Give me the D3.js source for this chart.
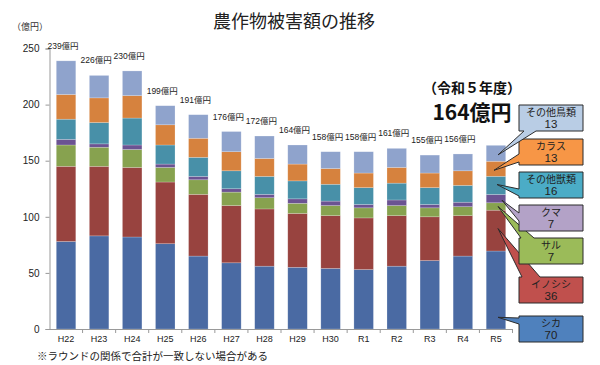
<!DOCTYPE html>
<html><head><meta charset="utf-8">
<script src="https://cdn.jsdelivr.net/npm/d3@7"></script>
<style>
body{margin:0;background:#fff;}
svg{display:block;font-family:"Liberation Sans","Noto Sans CJK JP",sans-serif;}
</style></head>
<body><svg id="c" width="600" height="365"></svg>
<script>
const categories = ["H22","H23","H24","H25","H26","H27","H28","H29","H30","R1","R2","R3","R4","R5"];
const shika     = [78,83,82,76,65,59,56,55,54,53,56,61,65,69.5];
const inoshishi = [67,62,62,55,55,51,51,48,47,46,45,39,36,36.4];
const saru      = [19,17,16,13,13,12,10,9,9,9,9,8,8,6.6];
const kuma      = [5,3,4,3,3,3,3,4,4,3,5,3,4,7.4];
const sonotaJu  = [18,19,24,17,17,16,16,16,15,15,15,15,15,16.2];
const karasu    = [22,22,20,18,17,17,16,15,14,13,14,13,13,13.4];
const sonotaCho = [30,20,22,17,21,18,20,17,15,19,17,16,15,14.2];
const totals    = [239,226,230,199,191,176,172,164,158,158,161,155,156];
const seriesNames = ["シカ","イノシシ","サル","クマ","その他獣類","カラス","その他鳥類"];
const calloutValues = [70,36,7,7,16,13,13];
const yTicks = [0,50,100,150,200,250];

const seriesData = [shika,inoshishi,saru,kuma,sonotaJu,karasu,sonotaCho];
const barColors = ["#4a6aa3","#98433f","#87a24f","#6b5392","#4890a8","#d6823e","#8fa3cc"];
const boxColors = ["#4f81bd","#c0504d","#9bbb59","#b3a2c7","#4bacc6","#f79646","#b9cde5"];

const svg = d3.select("#c");
const x = d3.scaleBand().domain(categories).range([49.5,512.5]).paddingInner(0.41).paddingOuter(0.205);
const y = d3.scaleLinear().domain([0,250]).range([329,48.5]);

const rows = categories.map((c,i)=>{const o={cat:c}; seriesNames.forEach((s,j)=>o[s]=seriesData[j][i]); return o;});
const stack = d3.stack().keys(seriesNames)(rows);

// title
svg.append("text").attr("x",213).attr("y",28).attr("font-size",18).attr("fill","#222")
  .style("font-family","'Noto Sans CJK JP',sans-serif").text("農作物被害額の推移");
svg.append("text").attr("x",12).attr("y",30).attr("font-size",9).attr("fill","#333").text("（億円）");

// bars
stack.forEach((layer,j)=>{
  svg.append("g").selectAll("rect").data(layer).join("rect")
    .attr("x",d=>x(d.data.cat)).attr("width",x.bandwidth())
    .attr("y",d=>y(d[1])).attr("height",d=>y(d[0])-y(d[1]))
    .attr("fill",barColors[j]).attr("stroke","rgba(255,255,255,0.35)").attr("stroke-width",0.6);
});

// axes
const ya = svg.append("g").attr("transform","translate(49.5,0)")
  .call(d3.axisLeft(y).tickValues(yTicks).tickSize(4).tickPadding(6));
ya.select(".domain").attr("stroke","#999");
ya.selectAll(".tick line").attr("stroke","#999");
ya.selectAll(".tick text").attr("font-size",10).attr("fill","#222");

const xa = svg.append("g").attr("transform","translate(0,329)")
  .call(d3.axisBottom(x).tickSize(0).tickPadding(7));
xa.select(".domain").attr("stroke","#999");
xa.selectAll(".tick text").attr("font-size",9).attr("fill","#222");
const step = x.step();
const bounds = categories.map(c=>x(c)+x.bandwidth()/2+step/2);
svg.append("g").selectAll("line").data(bounds).join("line")
  .attr("x1",d=>d).attr("x2",d=>d).attr("y1",329).attr("y2",333).attr("stroke","#999");

// totals
svg.append("g").selectAll("text").data(totals).join("text")
  .attr("x",(d,i)=>x(categories[i])+x.bandwidth()/2-3)
  .attr("y",d=>y(d)-12).attr("text-anchor","middle").attr("font-size",8.5).attr("fill","#222")
  .text(d=>d+"億円");

// big annotation
svg.append("text").attr("x",472).attr("y",93).attr("text-anchor","middle").attr("font-size",14)
  .attr("font-weight","bold").attr("fill","#111").style("font-family","'Noto Sans CJK JP',sans-serif").text("（令和５年度）");
svg.append("text").attr("x",472).attr("y",120).attr("text-anchor","middle").attr("font-size",21)
  .attr("font-weight","bold").attr("fill","#111").style("font-family","'Noto Sans CJK JP',sans-serif").text("164億円");

// callouts
const last = categories.length-1;
const calloutTops = [316,277,238,205,172,139,105];
const cx0=519, cx1=583, ch=26;
const lastStack = stack.map(l=>l[last]);
const tails = [
  {side:"left", a:318, b:324, px:0.15},
  {side:"top",  a:522, b:540, px:0.55},
  {side:"top",  a:521, b:534, px:0.5},
  {side:"left", a:213, b:221, px:0.3},
  {side:"left", a:189, b:196, px:0.55},
  {side:"left", a:154, b:162, px:0.4},
  {side:"bottom",a:524, b:536, px:0.4}
];
const pxX = [498,498,498,502,497,494,498];
seriesNames.forEach((s,j)=>{
  const t0 = calloutTops[j], t1 = t0+ch;
  const seg = lastStack[j];
  const py = y(seg[0]) + (y(seg[1])-y(seg[0]))*tails[j].px;
  const px = pxX[j];
  const tl = tails[j];
  let p;
  if(tl.side==="left") p=`M${cx0},${t0}H${cx1}V${t1}H${cx0}V${tl.b}L${px},${py}L${cx0},${tl.a}Z`;
  else if(tl.side==="top") p=`M${cx0},${t0}H${tl.a}L${px},${py}L${tl.b},${t0}H${cx1}V${t1}H${cx0}Z`;
  else p=`M${cx0},${t0}H${cx1}V${t1}H${tl.b}L${px},${py}L${tl.a},${t1}H${cx0}Z`;
  svg.append("path").attr("d",p).attr("fill",boxColors[j]).attr("stroke","#2b2b2b").attr("stroke-width",1);
  svg.append("text").attr("x",(cx0+cx1)/2).attr("y",t0+11).attr("text-anchor","middle")
    .attr("font-size",10).attr("fill","#222").text(s);
  svg.append("text").attr("x",(cx0+cx1)/2).attr("y",t0+23).attr("text-anchor","middle")
    .attr("font-size",11.5).attr("fill","#222").text(calloutValues[j]);
});

// footnote
svg.append("text").attr("x",37).attr("y",360).attr("font-size",10.5).attr("fill","#222")
  .style("font-family","'Noto Sans CJK JP',sans-serif").text("※ラウンドの関係で合計が一致しない場合がある");
</script></body></html>
